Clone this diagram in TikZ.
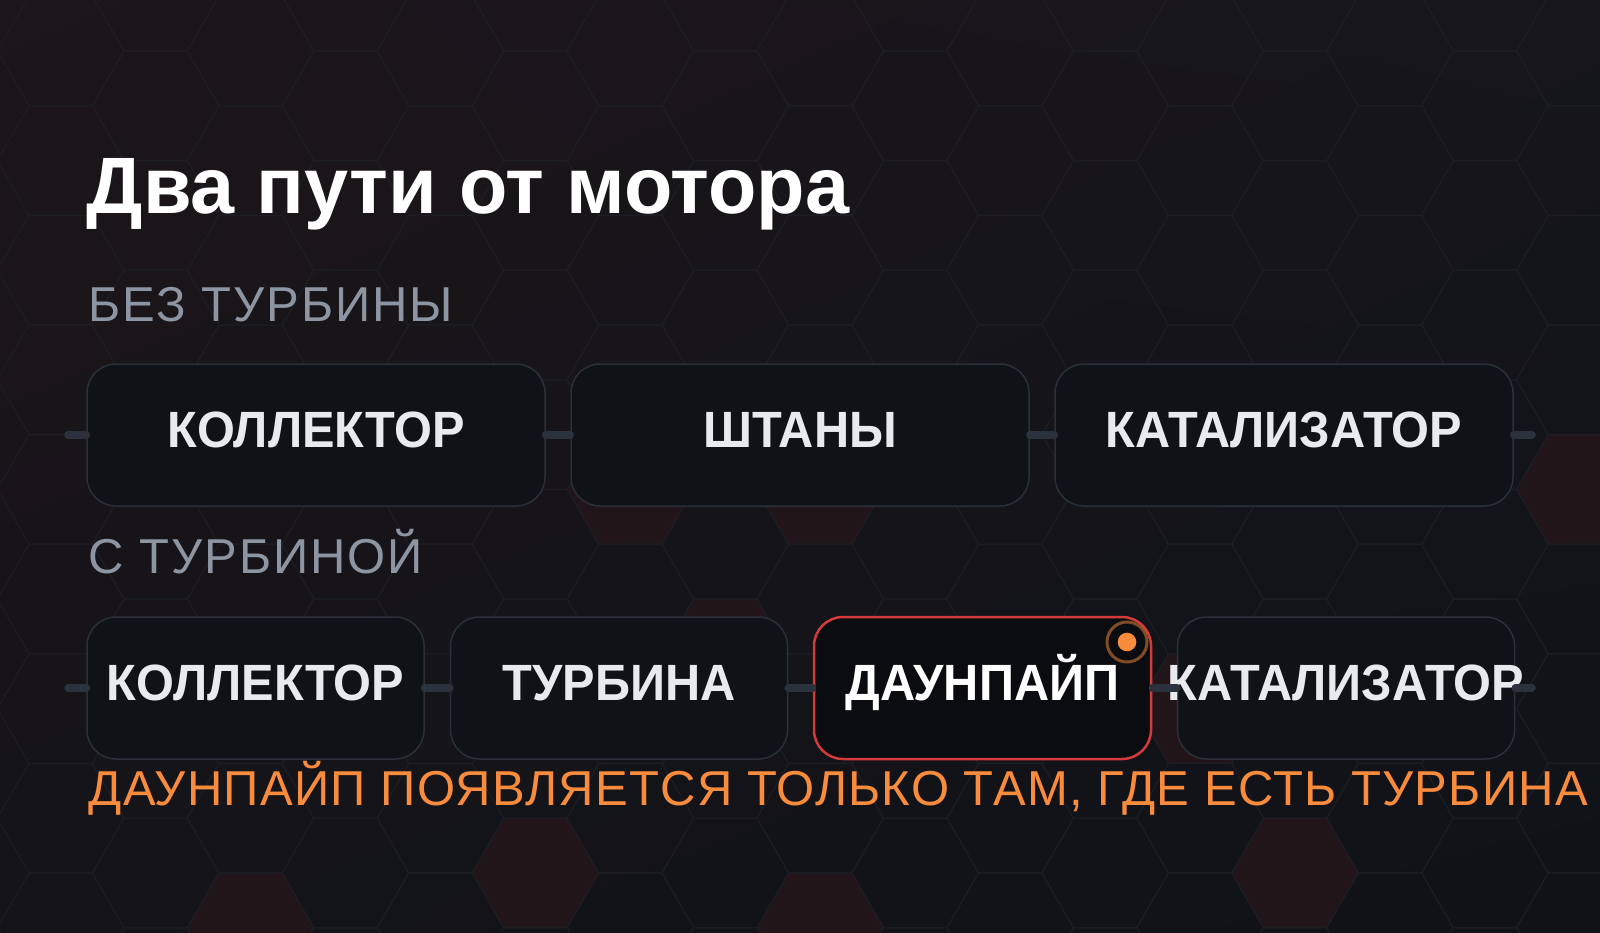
\documentclass[tikz,border=0pt]{standalone}
\usepackage{fontspec}
\usetikzlibrary{shadings}
\setmainfont{Liberation Sans}
\newfontfamily\capsfont[LetterSpace=4]{Liberation Sans}
\newfontfamily\notefont[LetterSpace=2.5]{Liberation Sans}
\newfontfamily\partfont[FakeStretch=0.955]{Liberation Sans}
\newfontfamily\titlefont[FakeStretch=0.99]{Liberation Sans}
\definecolor{bgul}{HTML}{1C1519}
\definecolor{bgur}{HTML}{16161B}
\definecolor{bgll}{HTML}{141419}
\definecolor{bglr}{HTML}{0F1217}
\definecolor{hexline}{HTML}{1C1E24}
\definecolor{hexred}{HTML}{21151A}
\definecolor{partfill}{HTML}{0F1217}
\definecolor{partline}{HTML}{2A2F38}
\definecolor{parttext}{HTML}{E8EAEE}
\definecolor{keyfill}{HTML}{0A0C10}
\definecolor{keyred}{HTML}{D33A3A}
\definecolor{pipecol}{HTML}{2C323D}
\definecolor{subgray}{HTML}{8D95A2}
\definecolor{noteorange}{HTML}{F98B3D}
\begin{document}
\begin{tikzpicture}[x = 1pt, y = -1pt, % one unit per pixel, y downwards
                node distance = 484pt, % distance between boxes in a row
                line width = 1.5pt
            ]

            \tikzstyle{part}=[draw = partline, fill = partfill, rounded corners = 29pt,
            minimum width = 458pt, minimum height = 142pt, inner sep = 0pt,
            text = parttext, font = \partfont\bfseries\fontsize{51}{51}\selectfont,
            text height = 36pt, text depth = 12pt,
            execute at begin node = {\hbox to 0pt\bgroup\hss},
            execute at end node = {\hss\egroup}]
            \tikzstyle{short}=[part, minimum width = 337pt]
            \tikzstyle{key}=[short, draw = keyred, fill = keyfill, text = white,
            line width = 2.5pt]
            \tikzstyle{pipe}=[draw = pipecol, line width = 7.5pt, line cap = round]
            \tikzstyle{heading}=[anchor = base west, inner sep = 0pt]
            \tikzstyle{hexcell}=[draw = hexline, line width = 1pt]

            % background
            \shade[upper left = bgul, upper right = bgur, lower left = bgll,
            lower right = bglr] (0,0) rectangle (1600,933);
            \begin{scope}
                \clip (0,0) rectangle (1600,933);
                \foreach \c/\hy in {2/927.8, 5/873, 6/489.4, 7/653.8, 8/489.4,
                    8/927.8, 12/708.6, 13/873, 16/489.4} {
                    \pgfmathsetmacro\hx{60.65+94.95*\c}
                    \fill[hexred] (\hx,\hy) +(0:63.3) -- +(60:63.3) -- +(120:63.3)
                    -- +(180:63.3) -- +(240:63.3) -- +(300:63.3) -- cycle;
                }
                \foreach \c in {0,...,17} \foreach \n in {-1,...,9} {
                    \pgfmathsetmacro\hx{60.65+94.95*\c}
                    \pgfmathsetmacro\hy{mod(\c,2)==1 ? -3.8+109.6*\n : 51+109.6*\n}
                    \draw[hexcell] (\hx,\hy) +(0:63.3) -- +(60:63.3) -- +(120:63.3)
                    -- +(180:63.3) -- +(240:63.3) -- +(300:63.3) -- cycle;
                }
            \end{scope}
            \useasboundingbox (0,0) rectangle (1600,933);

            \node[heading, text = white, font = \titlefont\bfseries\fontsize{80}{80}\selectfont]
            (title) at (86,214) {Два пути от мотора};
            \node[heading, text = subgray, font = \capsfont\fontsize{49}{49}\selectfont]
            (without) at (88,321) {БЕЗ ТУРБИНЫ};
            \node[heading, text = subgray, font = \capsfont\fontsize{49}{49}\selectfont]
            (with) at (88,573) {С ТУРБИНОЙ};

            % row without turbo
            \node[part] (1) at (316,435) {КОЛЛЕКТОР}; \node[part] (2) [right of=1]
            {ШТАНЫ}; \node[part] (3) [right of=2] {КАТАЛИЗАТОР};
            \coordinate (l1) at (68,435); \coordinate (r1) at (1532,435);

            % row with turbo
            \node[short] (4) at (255.5,688) {КОЛЛЕКТОР}; \node[short] (5) [right
                of=4, node distance = 363.5pt] {ТУРБИНА}; \node[key] (6) [right
                of=5, node distance = 363.5pt] {ДАУНПАЙП}; \node[short] (7) [right
                of=6, node distance = 363.5pt] {КАТАЛИЗАТОР};
            \coordinate (l2) at (68,688); \coordinate (r2) at (1532,688);

            \path[pipe] (l1) edge (1); \path[pipe] (1) edge (2); \path[pipe] (2)
            edge (3); \path[pipe] (3) edge (r1);
            \path[pipe] (l2) edge (4); \path[pipe] (4) edge (5); \path[pipe] (5)
            edge (6); \path[pipe] (6) edge (7); \path[pipe] (7) edge (r2);

            % marker on the downpipe
            \node[circle, fill = noteorange, minimum size = 18.6pt, inner sep = 0pt]
            (dot) at (1127,642) {};
            \node[circle, draw = noteorange, draw opacity = 0.5, line width = 3pt,
            minimum size = 40pt, inner sep = 0pt] (ring) at (dot) {};

            \node[heading, text = noteorange, font = \notefont\fontsize{49}{49}\selectfont]
            (note) at (88,805) {ДАУНПАЙП ПОЯВЛЯЕТСЯ ТОЛЬКО ТАМ, ГДЕ ЕСТЬ ТУРБИНА};
\end{tikzpicture}
\end{document}
